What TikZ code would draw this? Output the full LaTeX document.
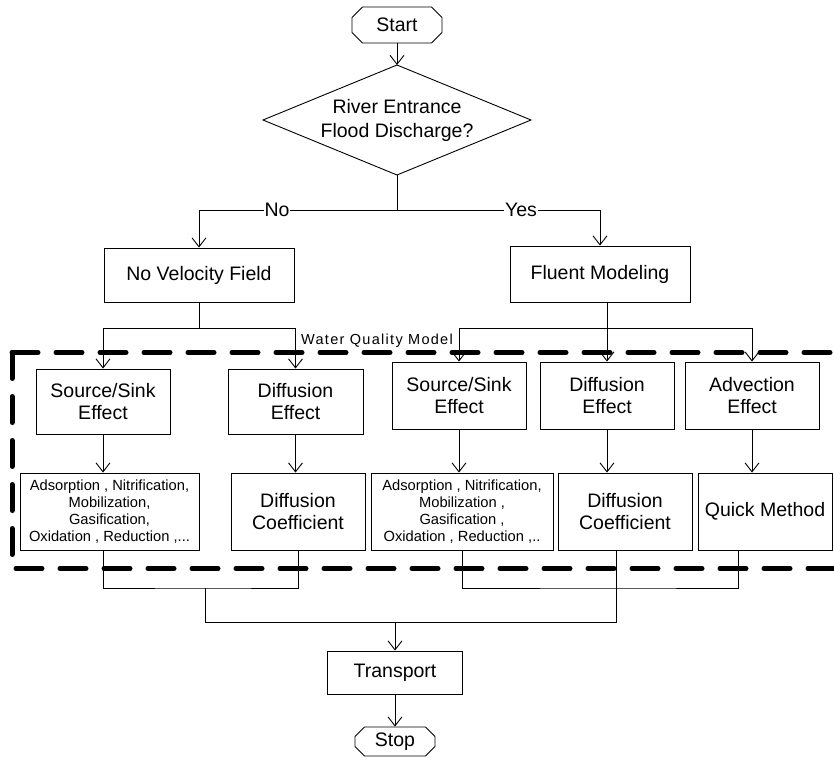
\documentclass[tikz,border=0pt]{standalone}
\usepackage{fontspec}
\setmainfont{Liberation Sans}
\usetikzlibrary{arrows.meta,shapes.misc,calc}
\begin{document}
\begin{tikzpicture}[x=1pt,y=-1pt,
  arr/.style={-{Straight Barb[length=9pt,width=14pt]},line width=0.9pt},
  ln/.style={line width=0.9pt},
  bx/.style={draw,line width=0.9pt,rectangle,inner sep=0pt,align=center,
    font=\fontsize{19.5}{22}\selectfont},
  smallbx/.style={draw,line width=0.9pt,rectangle,inner sep=0pt,align=center,
    font=\fontsize{14.7}{17}\selectfont},
  term/.style={draw,line width=0.9pt,chamfered rectangle,chamfered rectangle xsep=7pt,
    inner sep=0pt,font=\fontsize{19.5}{22}\selectfont},
  lbl/.style={fill=white,inner sep=1pt,font=\fontsize{19.5}{22}\selectfont},
  wq/.style={line width=5pt,dash pattern=on 26pt off 18pt,line cap=round}
]
\useasboundingbox (0,0) rectangle (834,757);
\begin{scope}
\clip (0,0) rectangle (834,757);
\draw[wq] (12,352.5) -- (12,568.5) -- (880,568.5);
\draw[wq] (12,352.5) -- (880,352.5);
\end{scope}

% Start
\node[term,minimum width=90,minimum height=36] (start) at (397,25) {Start};

% Decision
\draw[ln] (397,65) coordinate (dtop) -- (531,120) -- (397,175) coordinate (dbot) -- (263,120) -- cycle;
\node[align=center,inner sep=0pt,font=\fontsize{19.5}{24}\selectfont] (dec) at (397,120) {River Entrance\\Flood Discharge?};

% Row 1
\node[bx,minimum width=190,minimum height=54] (nvf) at (199,275) {No Velocity Field};
\node[bx,minimum width=180,minimum height=56] (fm) at (600,274) {Fluent Modeling};

% Row 2
\node[bx,minimum width=134,minimum height=65] (ss1) at (103,401.5) {Source/Sink\\Effect};
\node[bx,minimum width=135,minimum height=65] (de1) at (295.5,401.5) {Diffusion\\Effect};
\node[bx,minimum width=134,minimum height=67] (ss2) at (459,395.5) {Source/Sink\\Effect};
\node[bx,minimum width=134,minimum height=67] (de2) at (607,395.5) {Diffusion\\Effect};
\node[bx,minimum width=134,minimum height=67] (ae) at (752,395.5) {Advection\\Effect};

% Row 3
\node[smallbx,minimum width=179,minimum height=77] (ad1) at (109.5,511.5) {Adsorption , Nitrification,\\Mobilization,\\Gasification,\\Oxidation , Reduction ,...};
\node[bx,minimum width=134,minimum height=77] (dc1) at (298,511.5) {Diffusion\\Coefficient};
\node[smallbx,minimum width=182,minimum height=77] (ad2) at (462,511.5) {Adsorption , Nitrification,\\Mobilization ,\\Gasification ,\\Oxidation , Reduction ,..};
\node[bx,minimum width=134,minimum height=77] (dc2) at (625,511.5) {Diffusion\\Coefficient};
\node[bx,minimum width=134,minimum height=77] (qm) at (765,511.5) {Quick Method};

% Bottom
\node[bx,minimum width=135,minimum height=43] (tr) at (395,672.5) {Transport};
\node[term,minimum width=80,minimum height=29,chamfered rectangle xsep=6pt] (stop) at (395,741.5) {Stop};

% Water Quality Model label
\node[inner sep=0pt,font=\fontsize{14.5}{16}\selectfont\addfontfeature{LetterSpace=9}] (wql) at (377,341) {Water Quality Model};

% Connectors
\draw[arr] (start.south) -- (dtop);
\draw[ln] (dbot) -- (397,210) coordinate (j1);
\draw[arr] (j1) -| (nvf.north);
\draw[arr] (j1) -| (fm.north);
\node[lbl] (nolbl) at (277,210) {No};
\node[lbl] (yeslbl) at (521,210) {Yes};

\draw[ln] (nvf.south) -- (199,328) coordinate (s1);
\draw[arr] (s1) -| (ss1.north);
\draw[arr] (s1) -| (de1.north);

\coordinate (s2) at (607,328);
\draw[ln] (fm.south -| s2) -- (s2);
\draw[arr] (s2) -| (ss2.north);
\draw[arr] (s2) -- (de2.north);
\draw[arr] (s2) -| (ae.north);

\draw[arr] (ss1.south) -- (ss1.south |- ad1.north);
\draw[arr] (de1.south) -- (de1.south |- dc1.north);
\draw[arr] (ss2.south) -- (ss2.south |- ad2.north);
\draw[arr] (de2.south) -- (de2.south |- dc2.north);
\draw[arr] (ae.south) -- (ae.south |- qm.north);

\coordinate (j3) at (205,588);
\coordinate (j4) at (616,588);
\coordinate (j5) at (395,622);
\draw[ln] (ad1.south -| ss1.south) |- (j3) -| (dc1.south);
\draw[ln] (ad2.south) |- (j4) -| ([xshift=-27pt]qm.south);
\draw[ln] (dc2.south -| j4) -- (j4);
\draw[ln] (j3) |- (j4 |- j5) -- (j4);
\draw[arr] (j5) -- (tr.north);
\draw[arr] (tr.south) -- (stop.north);
\end{tikzpicture}
\end{document}
